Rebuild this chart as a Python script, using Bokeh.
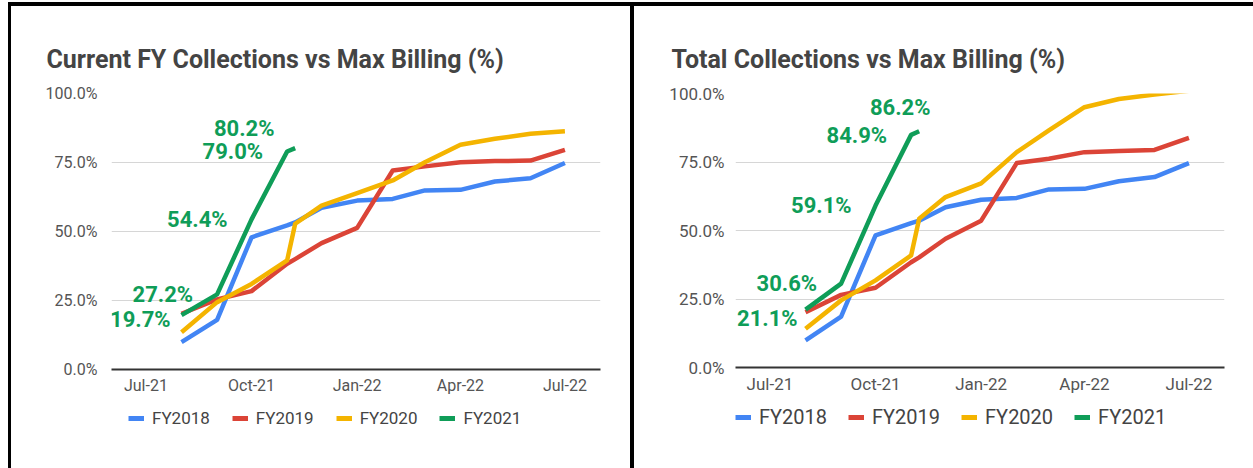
import pandas as pd
from bokeh.plotting import figure
from bokeh.layouts import row, column
from bokeh.models import (FixedTicker, PrintfTickFormatter, Legend, LegendItem,
                          ColumnDataSource, Range1d, Div)
from bokeh.embed import file_html
from bokeh.resources import INLINE
from bokeh.core.properties import value

# ---------------- data ----------------
DATES = ["2021-08-01", "2021-09-01", "2021-10-01", "2021-11-01", "2021-11-08",
         "2021-12-01", "2022-01-01", "2022-02-01", "2022-03-01", "2022-04-01",
         "2022-05-01", "2022-06-01", "2022-07-01"]
SERIES = ["FY2018", "FY2019", "FY2020", "FY2021"]

CUR_FY2018 = [9.9, 18.0, 47.9, 52.2, 53.3, 58.6, 61.2, 61.8, 64.9, 65.1, 68.1, 69.3, 74.8]
CUR_FY2019 = [20.2, 25.4, 28.4, 38.3, 40.0, 45.8, 51.3, 72.1, 73.6, 75.1, 75.5, 75.7, 79.6]
CUR_FY2020 = [13.5, 24.4, 31.0, 39.5, 52.8, 59.4, 63.9, 68.5, 75.1, 81.4, 83.6, 85.4, 86.3]
CUR_FY2021 = [19.7, 27.2, 54.4, 79.0, 80.2]

TOT_FY2018 = [9.9, 18.6, 48.2, 52.7, 53.6, 58.5, 61.2, 61.9, 65.0, 65.2, 68.0, 69.5, 74.6]
TOT_FY2019 = [20.2, 26.5, 29.1, 38.4, 40.2, 47.0, 53.6, 74.6, 76.2, 78.6, 79.0, 79.4, 83.8]
TOT_FY2020 = [14.1, 24.5, 31.8, 40.9, 54.3, 62.2, 67.2, 78.6, 86.5, 95.0, 98.0, 99.6, 101.0]
TOT_FY2021 = [21.1, 30.6, 59.1, 84.9, 86.2]

TICK_DATES = ["2021-07-01", "2021-10-01", "2022-01-01", "2022-04-01", "2022-07-01"]
TICK_LABELS = ["Jul-21", "Oct-21", "Jan-22", "Apr-22", "Jul-22"]
Y_TICKS = [0, 25, 50, 75, 100]
X_START, X_END = "2021-06-01", "2022-08-01"

TITLE_LEFT = "Current FY Collections vs Max Billing (%)"
TITLE_RIGHT = "Total Collections vs Max Billing (%)"

# ---------------- styling ----------------
COLORS = ["#4285F4", "#DB4437", "#F4B400", "#0F9D58"]
GREEN = "#0F9D58"
FONT = "Roboto"
W = 619
H_MAIN = 400
H_LEG = 62

LEFT_LABEL_DX = [-11, -24, -24, -24, -51]
LEFT_LABEL_DY = [4, 0, 0, 0, -20]
LEFT_LABEL_ALIGN = ["right", "right", "right", "right", "center"]
RIGHT_LABEL_DX = [-8, -24, -24, -24, -19]
RIGHT_LABEL_DY = [9, 0, 0, 1, -24]
RIGHT_LABEL_ALIGN = ["right", "right", "right", "right", "center"]


def ms(d):
    return int(pd.Timestamp(d).value // 10**6)


def make_chart(title, series_vals, dx, dy, align, borders, tick_fs, y_standoff,
               legend_fs, legend_loc, legend_spacing, title_offset):
    bl, br, bt, bb = borders
    x_all = [ms(d) for d in DATES]
    p = figure(width=W, height=H_MAIN, output_backend="svg", toolbar_location=None,
               x_range=Range1d(ms(X_START), ms(X_END)), y_range=Range1d(0, 100),
               min_border_left=bl, min_border_right=br, min_border_top=bt,
               min_border_bottom=bb, outline_line_color=None,
               background_fill_color="white", border_fill_color="white")
    p.title.text = title
    p.title.text_font = FONT
    p.title.text_font_style = "bold"
    p.title.text_font_size = "25px"
    p.title.text_color = "#444444"
    p.title.offset = title_offset
    p.title.standoff = 40

    p.yaxis.ticker = FixedTicker(ticks=Y_TICKS)
    p.yaxis.formatter = PrintfTickFormatter(format="%.1f%%")
    p.yaxis.axis_line_color = None
    p.yaxis.major_tick_line_color = None
    p.yaxis.minor_tick_line_color = None
    p.yaxis.major_label_standoff = y_standoff
    p.yaxis.major_label_text_font = FONT
    p.yaxis.major_label_text_font_size = tick_fs
    p.yaxis.major_label_text_color = "#555555"

    tick_ms = [ms(d) for d in TICK_DATES]
    p.xaxis.ticker = FixedTicker(ticks=tick_ms)
    p.xaxis.major_label_overrides = {t: lab for t, lab in zip(tick_ms, TICK_LABELS)}
    p.xaxis.axis_line_color = "#333333"
    p.xaxis.axis_line_width = 2
    p.xaxis.major_tick_line_color = None
    p.xaxis.minor_tick_line_color = None
    p.xaxis.major_label_standoff = 0
    p.xaxis.major_label_text_font = FONT
    p.xaxis.major_label_text_font_size = tick_fs
    p.xaxis.major_label_text_color = "#555555"

    p.xgrid.grid_line_color = None
    p.ygrid.grid_line_color = "#d6d6d6"
    p.ygrid.grid_line_width = 1

    for name, vals, col in zip(SERIES, series_vals, COLORS):
        p.line(x_all[:len(vals)], vals, line_color=col, line_width=4.5,
               line_join="round")

    green = series_vals[-1]
    src = ColumnDataSource(dict(
        x=x_all[:len(green)], y=green,
        txt=[f"{v:.1f}%" for v in green],
        dx=dx, dy=dy, al=align))
    p.text(x="x", y="y", text="txt", x_offset="dx", y_offset="dy",
           text_align="al", text_baseline="middle", source=src,
           text_font=value(FONT), text_font_style="bold",
           text_font_size="22px", text_color=GREEN)

    # legend strip: a small figure whose view window hides its copies of the lines
    lg = figure(width=W, height=H_LEG, output_backend="svg", toolbar_location=None,
                x_range=Range1d(ms(X_START), ms(X_END)), y_range=Range1d(500, 600),
                x_axis_type=None, y_axis_type=None, outline_line_color=None,
                min_border=0, border_fill_color="white")
    lg.grid.grid_line_color = None
    items = []
    for name, vals, col in zip(SERIES, series_vals, COLORS):
        r = lg.line(x_all[:len(vals)], vals, line_color=col, line_width=5)
        items.append(LegendItem(label=name, renderers=[r]))
    leg = Legend(items=items, orientation="horizontal", location=legend_loc,
                 label_text_font=FONT, label_text_font_size=legend_fs,
                 label_text_color="#444444", glyph_width=16, glyph_height=26,
                 label_height=26, label_standoff=8, spacing=legend_spacing,
                 padding=0, margin=0, border_line_color=None,
                 background_fill_alpha=0)
    lg.add_layout(leg, "center")
    return column(p, lg, spacing=0)


c1 = make_chart(TITLE_LEFT, [CUR_FY2018, CUR_FY2019, CUR_FY2020, CUR_FY2021],
                LEFT_LABEL_DX, LEFT_LABEL_DY, LEFT_LABEL_ALIGN,
                (100, 30, 87, 37), "16px", 8, "17px", (17, 37), 22, -65)
c2 = make_chart(TITLE_RIGHT, [TOT_FY2018, TOT_FY2019, TOT_FY2020, TOT_FY2021],
                RIGHT_LABEL_DX, RIGHT_LABEL_DY, RIGHT_LABEL_ALIGN,
                (101, 29, 87, 39), "17px", 5, "20px", (0, 38), 21, -64)

BLACK = {"background-color": "#000000"}


def blank(w, h, style=None):
    return Div(text="", width=w, height=h, margin=0, styles=style or {})


layout = column(
    blank(1253, 2),
    row(blank(8, 4), blank(1245, 4, BLACK), spacing=0),
    row(blank(8, 462), blank(3, 462, BLACK), c1, blank(4, 462, BLACK), c2, spacing=0),
    spacing=0,
)

open("out.html", "w").write(file_html(layout, INLINE))
